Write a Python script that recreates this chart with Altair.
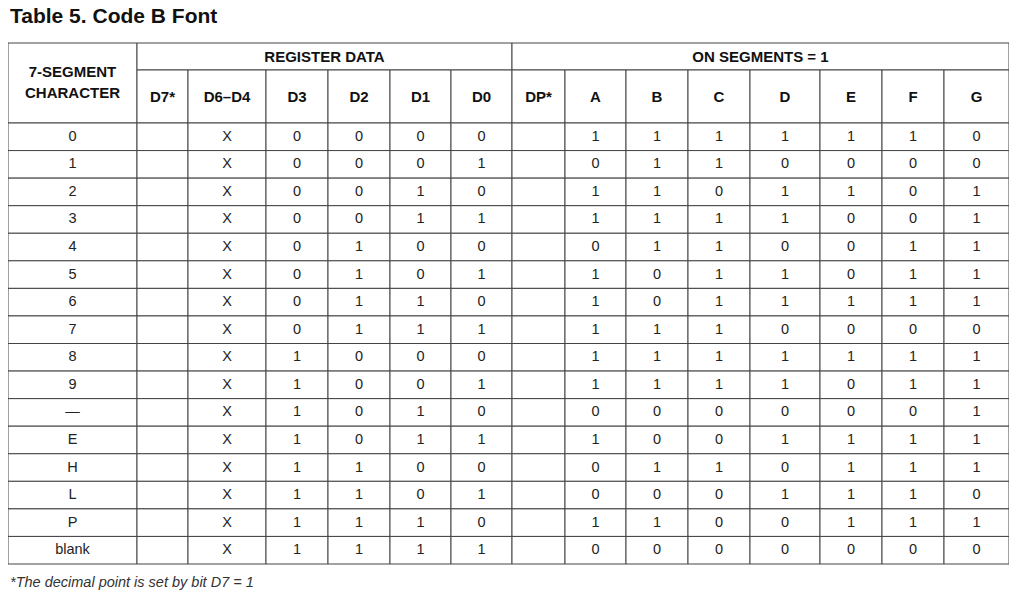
import altair as alt
import pandas as pd

title_text = "Table 5. Code B Font"
footnote = "*The decimal point is set by bit D7 = 1"
group_headers = ["REGISTER DATA", "ON SEGMENTS = 1"]
col_headers = ["D7*", "D6–D4", "D3", "D2", "D1", "D0", "DP*", "A", "B", "C", "D", "E", "F", "G"]
chars = ["0","1","2","3","4","5","6","7","8","9","—","E","H","L","P","blank"]
d3 = [0,0,0,0,0,0,0,0,1,1,1,1,1,1,1,1]
d2 = [0,0,0,0,1,1,1,1,0,0,0,0,1,1,1,1]
d1 = [0,0,1,1,0,0,1,1,0,0,1,1,0,0,1,1]
d0 = [0,1,0,1,0,1,0,1,0,1,0,1,0,1,0,1]
seg_a = [1,0,1,1,0,1,1,1,1,1,0,1,0,0,1,0]
seg_b = [1,1,1,1,1,0,0,1,1,1,0,0,1,0,1,0]
seg_c = [1,1,0,1,1,1,1,1,1,1,0,0,1,0,0,0]
seg_d = [1,0,1,1,0,1,1,0,1,1,0,1,0,1,0,0]
seg_e = [1,0,1,0,0,0,1,0,1,0,0,1,1,1,1,0]
seg_f = [1,0,0,0,1,1,1,0,1,1,0,1,1,1,1,0]
seg_g = [0,0,1,1,1,1,1,0,1,1,1,1,1,0,1,0]

# layout (pixel units)
edges = [0,129,180,258,320,382,443,504,557,618,680,742,812,874,936,1001]
top, h1b, h2b, bottom = 35, 62, 115, 556
rh = (bottom - h2b) / 16

cells, texts = [], []
def cell(x0, x1, y0, y1, txt, kind, dy=0):
    cells.append(dict(x=x0, x2=x1, y=y0, y2=y1))
    if txt != "":
        texts.append(dict(x=(x0+x1)/2, y=(y0+y1)/2 + dy, t=txt, kind=kind))

cell(edges[0], edges[1], top, h2b, "7-SEGMENT\nCHARACTER", "hb", dy=-11)
cell(edges[1], edges[7], top, h1b, group_headers[0], "hb")
cell(edges[7], edges[15], top, h1b, group_headers[1], "hb")
for i, c in enumerate(col_headers):
    cell(edges[i+1], edges[i+2], h1b, h2b, c, "hb")
for r in range(16):
    vals = [chars[r], "", "X", d3[r], d2[r], d1[r], d0[r], "", seg_a[r], seg_b[r],
            seg_c[r], seg_d[r], seg_e[r], seg_f[r], seg_g[r]]
    y0 = h2b + r*rh
    for i, v in enumerate(vals):
        cell(edges[i], edges[i+1], y0, y0+rh, str(v), "d")

cdf = pd.DataFrame(cells)
tdf = pd.DataFrame(texts)
xs = alt.Scale(domain=[0,1001], nice=False, zero=False)
ys = alt.Scale(domain=[0,589], nice=False, zero=False, reverse=True)

rects = alt.Chart(cdf).mark_rect(fill="white", stroke="#444", strokeWidth=1).encode(
    x=alt.X("x:Q", scale=xs, axis=None), x2="x2:Q",
    y=alt.Y("y:Q", scale=ys, axis=None), y2="y2:Q")
hdr = alt.Chart(tdf[tdf.kind=="hb"]).mark_text(font="Liberation Sans", fontSize=15,
        fontWeight="bold", color="#111", lineBreak="\n", lineHeight=21, baseline="middle").encode(
    x=alt.X("x:Q", scale=xs), y=alt.Y("y:Q", scale=ys), text="t:N")
dat = alt.Chart(tdf[tdf.kind=="d"]).mark_text(font="Liberation Sans", fontSize=14.5,
        color="#222", baseline="middle").encode(
    x=alt.X("x:Q", scale=xs), y=alt.Y("y:Q", scale=ys), text="t:N")
ttl = alt.Chart(pd.DataFrame([dict(x=2, y=9, t=title_text)])).mark_text(
        font="Liberation Sans", fontSize=21, fontWeight="bold", align="left",
        baseline="middle", color="#111").encode(
    x=alt.X("x:Q", scale=xs), y=alt.Y("y:Q", scale=ys), text="t:N")
fn = alt.Chart(pd.DataFrame([dict(x=2, y=575, t=footnote)])).mark_text(
        font="Liberation Sans", fontSize=14.5, fontStyle="italic", align="left",
        baseline="middle", color="#333").encode(
    x=alt.X("x:Q", scale=xs), y=alt.Y("y:Q", scale=ys), text="t:N")

chart = alt.layer(rects, hdr, dat, ttl, fn).properties(
    width=1001, height=589, padding=0, autosize=alt.AutoSizeParams(type="none")
).configure_view(stroke=None)
chart.save("out.html", embed_options={"renderer": "svg", "actions": False})
